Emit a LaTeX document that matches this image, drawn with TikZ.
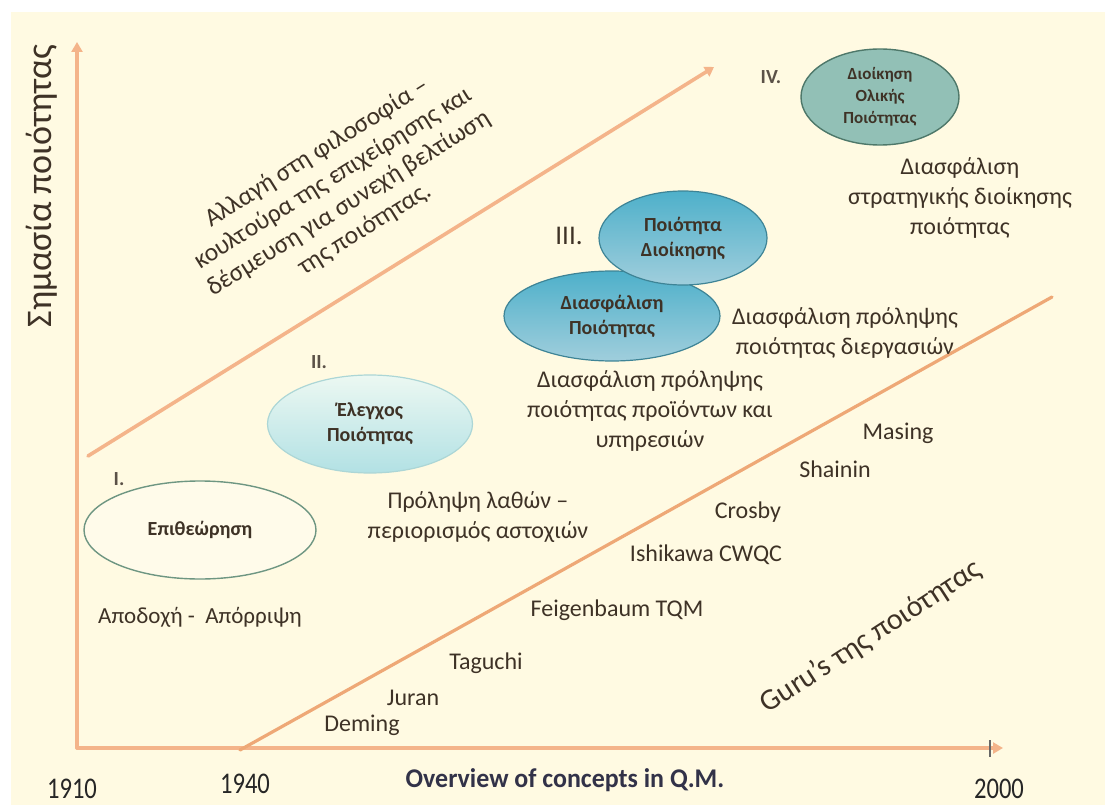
\documentclass[tikz,border=0pt]{standalone}
\usepackage{fontspec}
\setmainfont{Carlito}
\usetikzlibrary{arrows.meta,shapes.geometric}
\definecolor{paper}{RGB}{255,250,226}
\definecolor{axiscol}{RGB}{244,180,138}
\definecolor{guruline}{RGB}{238,168,118}
\definecolor{ink}{RGB}{62,50,38}
\definecolor{navyink}{RGB}{50,50,72}
\definecolor{stageAfill}{RGB}{255,251,234}
\definecolor{stageAline}{RGB}{110,150,130}
\definecolor{stageBtop}{RGB}{236,248,242}
\definecolor{stageBbot}{RGB}{178,225,228}
\definecolor{stageBline}{RGB}{172,214,214}
\definecolor{stageCtop}{RGB}{78,176,202}
\definecolor{stageCbot}{RGB}{160,206,220}
\definecolor{stageCline}{RGB}{62,132,150}
\definecolor{stageDfill}{RGB}{146,192,182}
\definecolor{stageDline}{RGB}{78,120,106}
\tikzset{
  axisline/.style={draw=axiscol, line width=3.2pt, line cap=round},
  stagelabel/.style={font=\fontsize{20}{25}\selectfont\bfseries, text=ink, align=center},
  stageA/.style={ellipse, draw=stageAline, line width=1.4pt, fill=stageAfill,
    minimum width=232pt, minimum height=98pt, inner sep=0pt, stagelabel},
  stageB/.style={ellipse, draw=stageBline, line width=1.2pt, top color=stageBtop,
    bottom color=stageBbot, minimum width=205pt, minimum height=98pt, inner sep=0pt, stagelabel},
  stageC/.style={ellipse, draw=stageCline, line width=1.2pt, top color=stageCtop,
    bottom color=stageCbot, inner sep=0pt, stagelabel},
  stageD/.style={ellipse, draw=stageDline, line width=1.4pt, fill=stageDfill,
    minimum width=158pt, minimum height=96pt, inner sep=0pt, stagelabel,
    font=\fontsize{17}{22}\selectfont\bfseries},
  numeral/.style={font=\fontsize{20}{22}\selectfont\bfseries, text=ink!85},
  note/.style={font=\fontsize{24}{30}\selectfont, text=ink, align=center},
  guru/.style={font=\fontsize{24}{26}\selectfont, text=ink},
  year/.style={font=\fontsize{30}{32}\selectfont, text=black!85},
}
\begin{document}
\begin{tikzpicture}[x=1pt,y=-1pt]
% page and cream panel
\fill[white] (0,0) rectangle (1105,805);
\fill[paper] (11,12) rectangle (1105,805);
\useasboundingbox (0,0) rectangle (1105,805);

% axes
\coordinate (origin) at (77,748);
\coordinate (ytop) at (77,42);
\coordinate (xend) at (1003,748);
\draw[axisline, -{Triangle[width=11pt,length=10pt]}] (origin) -- (ytop);
\draw[axisline, -{Triangle[width=11pt,length=10pt]}] (origin) -- (xend);
\coordinate (tickA) at (990,740);
\coordinate (tickB) at (990,757);
\draw[black!60, line width=2pt] (tickA) -- (tickB);

% diagonal trend arrow and gurus line
\coordinate (trendA) at (88,456);
\coordinate (trendB) at (714,67);
\draw[axisline, line width=3.6pt, -{Triangle[width=11pt,length=9pt]}] (trendA) -- (trendB);
\coordinate (guruA) at (240,750);
\coordinate (guruB) at (1052,297);
\draw[axisline, line width=3.2pt, draw=guruline] (guruA) -- (guruB);

% axis titles and years
\node[font=\fontsize{36}{38}\selectfont, text=ink, rotate=90] (ytitle) at (42,186) {Σημασία ποιότητας};
\node[font=\fontsize{27}{28}\selectfont\bfseries, text=navyink] (xtitle) at (565,780) {\scalebox{0.96}[1]{Overview of concepts in Q.M.}};
\node[year] (y1910) at (72,789) {\scalebox{0.82}[1]{1910}};
\node[year] (y1940) at (245,784) {\scalebox{0.82}[1]{1940}};
\node[year] (y2000) at (999,789) {\scalebox{0.82}[1]{2000}};

% rotated statement along the trend arrow
\node[note, font=\fontsize{25.5}{30}\selectfont, rotate=32] (shift) at (341,191)
  {Αλλαγή στη φιλοσοφία –\\κουλτούρα της επιχείρησης και\\δέσμευση για συνεχή βελτίωση\\της ποιότητας.};

% stages
\node[stageA] (s1) at (200,530) {Επιθεώρηση};
\node[numeral] (n1) at (119,479) {I.};
\node[stageB] (s2) at (370,424) {Έλεγχος\\Ποιότητας};
\node[numeral] (n2) at (319,362) {II.};
\node[stageC, minimum width=216pt, minimum height=90pt] (s3a) at (612,316) {Διασφάλιση\\Ποιότητας};
\node[stageC, minimum width=168pt, minimum height=94pt] (s3b) at (683,238) {Ποιότητα\\Διοίκησης};
\node[font=\fontsize{27}{28}\selectfont, text=ink] (n3) at (569,236) {III.};
\node[stageD] (s4) at (880,97) {Διοίκηση\\Ολικής\\Ποιότητας};
\node[numeral] (n4) at (771,77) {IV.};

% stage descriptions
\node[note] (d4) at (960,198) {Διασφάλιση\\στρατηγικής διοίκησης\\ποιότητας};
\node[note] (d3b) at (845,333) {Διασφάλιση πρόληψης\\ποιότητας διεργασιών};
\node[note] (d3a) at (650,411) {Διασφάλιση πρόληψης\\ποιότητας προϊόντων και\\υπηρεσιών};
\node[note] (d2) at (478,517) {Πρόληψη λαθών –\\περιορισμός αστοχιών};
\node[note, font=\fontsize{23}{26}\selectfont] (d1) at (200,617) {Αποδοχή -\ \ Απόρριψη};

% quality gurus
\node[guru] (g1) at (898,433) {Masing};
\node[guru] (g2) at (835,469) {Shainin};
\node[guru] (g3) at (748,512) {Crosby};
\node[guru] (g4) at (706,555) {Ishikawa CWQC};
\node[guru] (g5) at (617,610) {Feigenbaum TQM};
\node[guru] (g6) at (486,663) {Taguchi};
\node[guru] (g7) at (413,698) {Juran};
\node[guru] (g8) at (362,725) {Deming};
\node[font=\fontsize{30}{32}\selectfont, text=ink, rotate=33] (gurus) at (871,637) {Guru’s της ποιότητας};
\end{tikzpicture}
\end{document}
